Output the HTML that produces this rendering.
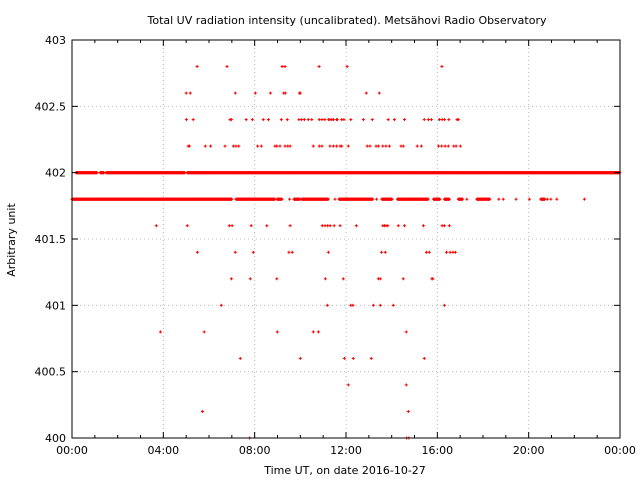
<!DOCTYPE html>
<html><head><meta charset="utf-8"><style>
body{margin:0;background:#fff}
svg text{font-family:"DejaVu Sans","Liberation Sans",sans-serif;font-size:11px;fill:#000}
</style></head><body>
<svg id="chart" width="640" height="480" xmlns="http://www.w3.org/2000/svg">
<rect width="640" height="480" fill="#fff"/>
<text x="347" y="24" text-anchor="middle">Total UV radiation intensity (uncalibrated). Metsähovi Radio Observatory</text>
<text x="345" y="474" text-anchor="middle">Time UT, on date 2016-10-27</text>
<text x="15" y="240" text-anchor="middle" transform="rotate(-90 15 240)">Arbitrary unit</text>
<g id="grid"></g>
<g id="marks"></g>
<g id="axes"></g>
</svg>
<script>
const xTickLabels=["00:00","04:00","08:00","12:00","16:00","20:00","00:00"];
const yTicks=[400,400.5,401,401.5,402,402.5,403];
const yTickLabels=["400","400.5","401","401.5","402","402.5","403"];
const levels=[402.8,402.6,402.4,402.2,401.6,401.4,401.2,401.0,400.8,400.6,400.4,400.2,400.0];
const t4028=[5.48,6.79,9.2,9.33,10.82,12.05,16.2];
const t4026=[5.0,5.18,7.15,8.03,8.69,9.27,9.34,9.96,10.0,12.89,13.46];
const t4024=[5.01,5.31,6.92,6.98,7.63,7.90,8.38,8.60,9.17,9.43,9.94,10.06,10.18,10.35,10.50,10.83,10.95,11.07,11.24,11.38,11.59,11.30,11.45,11.62,11.81,11.91,12.21,12.76,13.15,13.85,14.12,14.56,15.43,15.61,15.74,16.09,16.21,16.32,16.50,16.86,16.92];
const t4022=[5.09,5.14,5.84,6.07,6.70,7.07,7.18,7.30,8.13,8.29,8.89,8.97,9.11,9.33,9.45,9.55,10.57,10.83,10.95,11.30,11.45,11.59,11.74,11.81,12.10,12.93,13.05,13.32,13.42,13.61,13.75,13.90,14.41,14.51,15.12,15.30,16.05,16.19,16.34,16.48,16.72,16.82,17.01];
const t4016=[3.69,5.05,6.89,7.01,7.85,8.53,9.55,10.96,11.08,11.20,11.31,11.48,11.74,12.45,13.61,13.68,13.75,13.83,14.29,14.56,15.39,16.21,16.31,16.53];
const t4014=[5.49,7.15,7.94,9.50,9.65,11.23,13.56,13.72,15.52,15.65,16.40,16.56,16.68,16.79];
const t4012=[6.98,7.81,8.97,11.10,11.88,13.42,13.50,14.51,15.76,15.80];
const t4010=[6.54,11.18,12.21,12.30,13.20,13.50,14.07,16.31];
const t4008=[3.87,5.79,8.99,10.57,10.79,14.64];
const t4006=[7.37,10.00,11.93,12.32,13.11,15.43];
const t4004=[12.10,14.64];
const t4002=[5.71,14.73];
const t4000=[7.78,14.66,14.75];
const sparseTimes=[t4028,t4026,t4024,t4022,t4016,t4014,t4012,t4010,t4008,t4006,t4004,t4002,t4000];
const runs4020=[[0.18,1.10],[1.23,1.40],[1.49,4.95],[5.04,24]];
const runs4018=[[0,7.0],[7.18,8.89],[8.98,9.20],[9.53,9.53],[9.72,9.99],[10.06,11.23],[11.52,11.52],[11.69,13.18],[13.34,13.34],[13.57,14.03],[14.25,15.61],[15.83,16.12],[16.31,16.53],[16.92,17.11],[17.29,17.29],[17.73,18.31],[18.69,18.69],[18.89,18.89],[19.45,19.45],[20.03,20.03],[20.53,20.72],[20.82,20.82],[20.97,20.97],[21.23,21.23],[22.44,22.44]];

const X0=72,X1=620,Y0=438,Y1=40;
const xs=h=>X0+h/24*(X1-X0);
const ys=v=>Y0-(v-400)/3*(Y0-Y1);
const NS="http://www.w3.org/2000/svg";
function mk(tag,parent,attrs){const e=document.createElementNS(NS,tag);for(const k in attrs)e.setAttribute(k,attrs[k]);parent.appendChild(e);return e;}
const grid=document.getElementById('grid'),axes=document.getElementById('axes'),marks=document.getElementById('marks');
for(let i=1;i<xTickLabels.length-1;i++){const x=xs(i*4);
 const l=mk('line',grid,{x1:x,x2:x,y1:Y1,y2:Y0,stroke:'#bbb','stroke-dasharray':'1,3','stroke-width':1});
 
 }
for(let i=1;i<yTicks.length-1;i++){const y=ys(yTicks[i]);
 const l=mk('line',grid,{x1:X0,x2:X1,y1:y,y2:y,stroke:'#bbb','stroke-dasharray':'1,3','stroke-width':1});
 
 }
function pt(h,v){const cx=xs(h),cy=ys(v);
 const g=mk('g',marks,{});
 
 
 mk('rect',g,{x:(cx-1.5).toFixed(1),y:(cy-0.5).toFixed(1),width:3,height:1,fill:'#f00'});
 mk('rect',g,{x:(cx-0.5).toFixed(1),y:(cy-1.5).toFixed(1),width:1,height:3,fill:'#f00'});}
sparseTimes.forEach((arr,i)=>arr.forEach(h=>pt(h,levels[i])));
function drawRuns(runs,v){runs.forEach(([a,b])=>{for(let h=a;h<=b+1e-9;h+=1/60)pt(h,v);});}
drawRuns(runs4020,402.0);
drawRuns(runs4018,401.8);
const fr=mk('rect',axes,{x:X0,y:Y1,width:X1-X0,height:Y0-Y1,fill:'none',stroke:'#000','stroke-width':1});


for(let h=0;h<=24;h++){const x=xs(h),len=h%4==0?6:3;
 mk('line',axes,{x1:x,x2:x,y1:Y0,y2:Y0-len,stroke:'#000'});
 mk('line',axes,{x1:x,x2:x,y1:Y1,y2:Y1+len,stroke:'#000'});}
xTickLabels.forEach((s,i)=>{const t=mk('text',axes,{x:xs(i*4),y:Y0+16,'text-anchor':'middle'});t.textContent=s;
 
 });
yTicks.forEach((v,i)=>{const y=ys(v);
 mk('line',axes,{x1:X0,x2:X0+6,y1:y,y2:y,stroke:'#000'});
 mk('line',axes,{x1:X1,x2:X1-6,y1:y,y2:y,stroke:'#000'});
 const t=mk('text',axes,{x:X0-6,y:y+4,'text-anchor':'end'});t.textContent=yTickLabels[i];
 
 });
</script>
</body></html>
